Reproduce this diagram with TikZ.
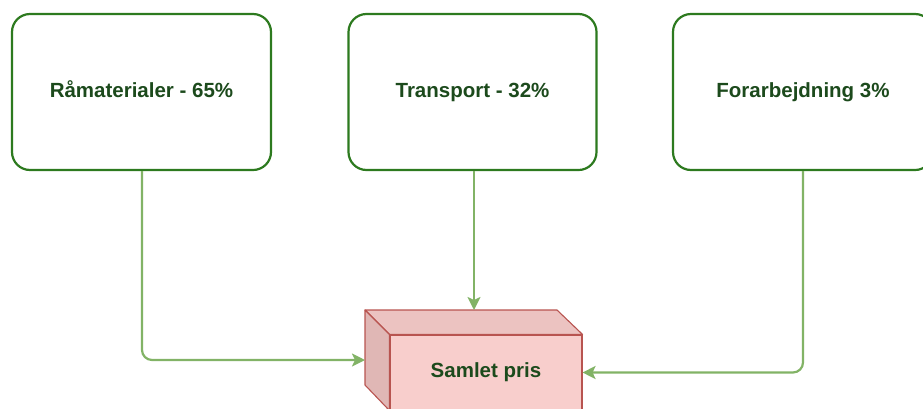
\documentclass[tikz,border=0pt]{standalone}
\usepackage{fontspec}
\setmainfont{Liberation Sans}
\usetikzlibrary{arrows.meta,positioning}
\definecolor{ink}{HTML}{1C4A1C}
\definecolor{frame}{HTML}{2D7A1F}
\definecolor{link}{HTML}{82B366}
\definecolor{rose}{HTML}{F8CECC}
\definecolor{rosetop}{HTML}{ECC3C1}
\definecolor{roseside}{HTML}{E0B7B5}
\definecolor{roseline}{HTML}{B85450}
\tikzset{
  box/.style={draw=frame,line width=2.2pt,rounded corners=18pt,fill=white,align=center,text height=15pt,text depth=4.5pt,font=\bfseries\fontsize{20.5}{24}\selectfont,text=ink},
  face/.style={draw=roseline,line width=1.1pt,line join=round},
  ar/.style={-{Stealth[length=13pt,width=13pt,inset=3pt]},draw=link,line width=2.2pt,rounded corners=10pt},
}
\begin{document}
\begin{tikzpicture}[x=1pt,y=-1pt]
  \clip (0,0) rectangle (923,408);
  % cost shares
  \node[box,minimum width=259pt,minimum height=156pt] (raa) at (141.5,92) {Råmaterialer - 65\%};
  \node[box,minimum width=248pt,minimum height=156pt] (trans) at (472.5,92) {Transport - 32\%};
  \node[box,minimum width=260pt,minimum height=156pt] (forarb) at (803,92) {Forarbejdning 3\%};
  % total price block
  \node[face,fill=rose,minimum width=192pt,minimum height=75pt,inner sep=0pt,font=\bfseries\fontsize{20.5}{24}\selectfont,text=ink] (pris) at (486,372.5) {Samlet pris};
  \filldraw[face,fill=rosetop] (365,310) -- (557,310) -- (pris.north east) -- (pris.north west) -- cycle;
  \filldraw[face,fill=roseside] (365,310) -- (pris.north west) -- (pris.south west) -- (365,385) -- cycle;
  \coordinate (side) at (365,360);
  \coordinate (top) at (474,310);
  \draw[ar] ([xshift=0.5pt]raa.south) |- (side);
  \draw[ar] (trans.south -| top) -- (top);
  \draw[ar] (forarb.south) |- (pris.east);
\end{tikzpicture}
\end{document}
